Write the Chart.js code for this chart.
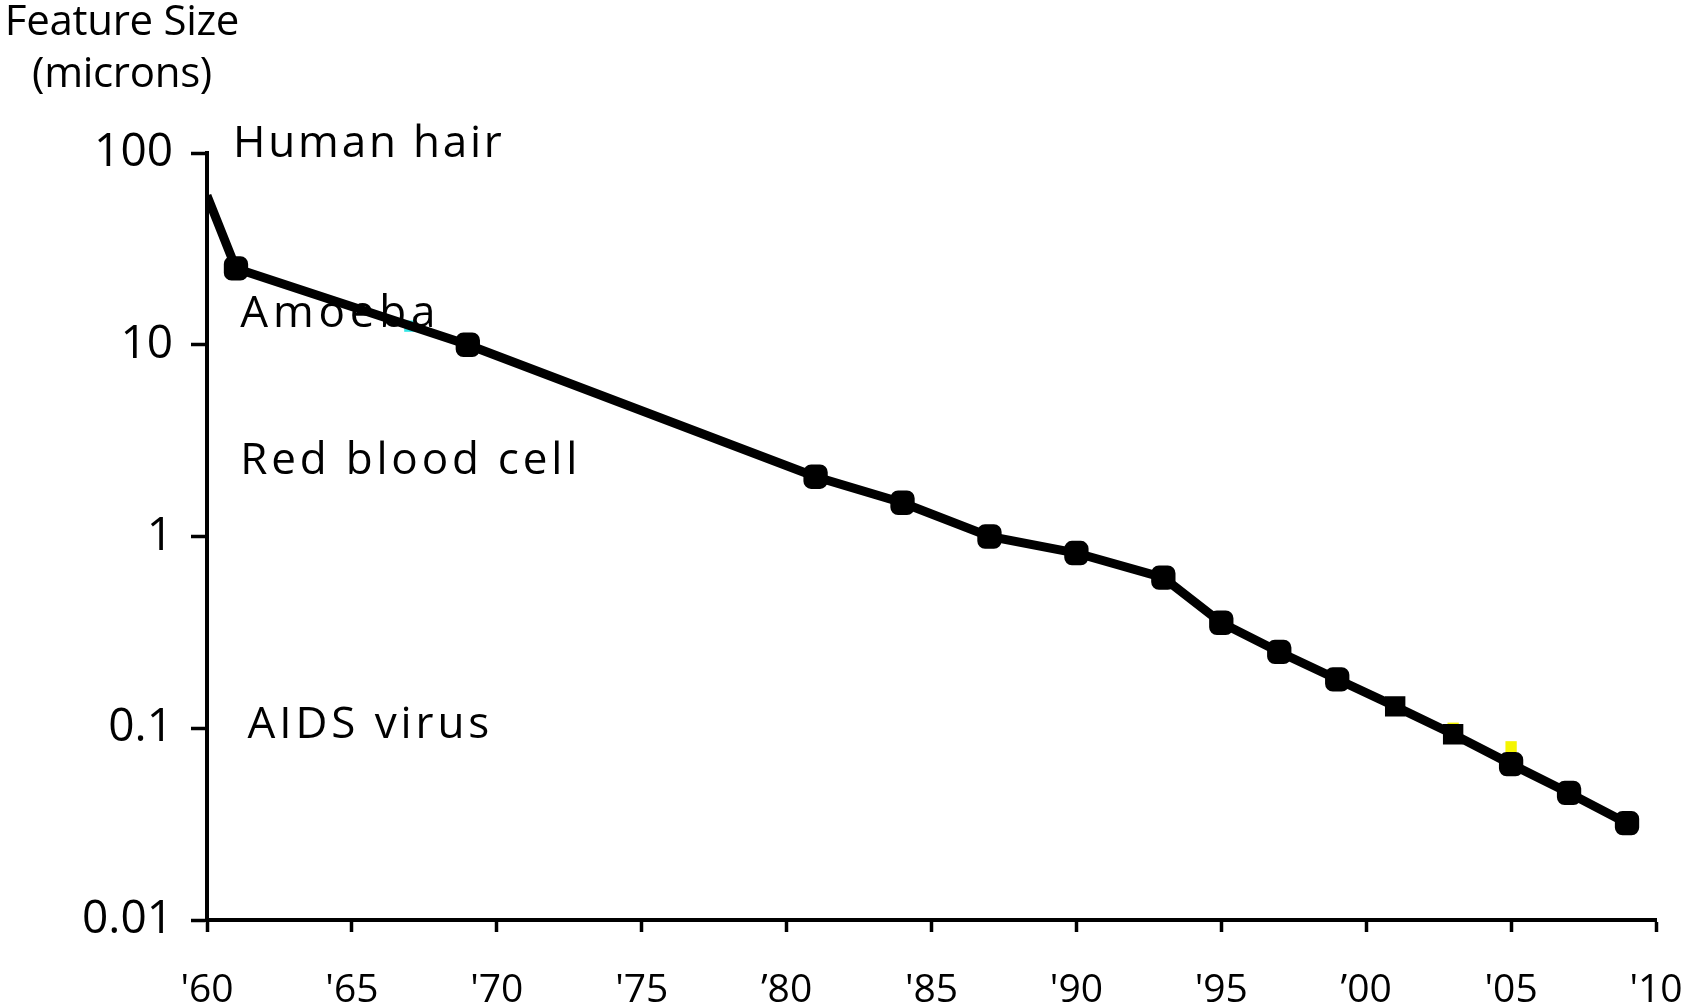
<!DOCTYPE html>
<html>
<head>
<meta charset="utf-8">
<script src="https://cdn.jsdelivr.net/npm/chart.js@4.4.1/dist/chart.umd.min.js"></script>
<style>
  html, body { margin: 0; padding: 0; background: #fff; }
  #chart { display: block; }
</style>
</head>
<body>
<canvas id="chart" width="1699" height="1007"></canvas>
<script>
// Feature size of chips over time (log scale)
const years = [1960, 1961, 1969, 1981, 1984, 1987, 1990, 1993, 1995, 1997, 1999, 2001, 2003, 2005, 2007, 2009];
const featureSize = [60, 25, 10, 2.05, 1.5, 1.0, 0.82, 0.61, 0.355, 0.25, 0.18, 0.13, 0.093, 0.065, 0.046, 0.032];
const markerStyles = ['rectRounded', 'rectRounded', 'rectRounded', 'rectRounded', 'rectRounded', 'rectRounded',
    'rectRounded', 'rectRounded', 'rectRounded', 'rectRounded', 'rectRounded', 'rect', 'rect', 'rectRounded',
    'rectRounded', 'rectRounded'];

// partly hidden markers behind the black line
const hiddenYears = [1967, 2003, 2005];
const hiddenSize = [12.5, 0.1, 0.08];
const hiddenColors = ['#33e6e6', '#f5f500', '#f5f500'];

const xTicks = [1960, 1965, 1970, 1975, 1980, 1985, 1990, 1995, 2000, 2005, 2010];
const xTickLabels = ["'60", "'65", "'70", "'75", "\u201980", "'85", "'90", "'95", "\u201900", "'05", "'10"];
const yTicks = [0.01, 0.1, 1, 10, 100];
const yTickLabels = ['0.01', '0.1', '1', '10', '100'];

const notes = ['Human hair', 'Amoeba', 'Red blood cell', 'AIDS virus'];
const noteYears = [1960.9, 1961.15, 1961.15, 1961.4];
const noteSize = [111, 14.4, 2.47, 0.104];
const noteSpacing = [2.8, 4.8, 3.8, 3.9];

const FONT = '"Open Sans", "Liberation Sans", sans-serif';

const textPlugin = {
    id: 'textPlugin',
    afterDraw(chart) {
        const ctx = chart.ctx;
        const xs = chart.scales.x;
        const ys = chart.scales.y;
        ctx.save();
        ctx.fillStyle = '#000';
        ctx.textBaseline = 'middle';

        // axis title, top left
        ctx.font = '42px ' + FONT;
        ctx.textAlign = 'center';
        ctx.letterSpacing = '-0.3px';
        ctx.fillText('Feature Size', 122, 23);
        ctx.fillText('(microns)', 122, 75);

        // reference sizes
        ctx.font = '44px ' + FONT;
        ctx.textAlign = 'left';
        notes.forEach((t, i) => {
            ctx.letterSpacing = noteSpacing[i] + 'px';
            ctx.fillText(t, xs.getPixelForValue(noteYears[i]), ys.getPixelForValue(noteSize[i]));
        });
        ctx.restore();
    }
};

new Chart(document.getElementById('chart'), {
    type: 'line',
    data: {
        datasets: [{
            data: years.map((y, i) => ({ x: y, y: featureSize[i] })),
            borderColor: '#000',
            borderWidth: 9,
            tension: 0,
            pointStyle: markerStyles,
            pointRadius: years.map((y, i) => i === 0 ? 0 : 13),
            pointBackgroundColor: '#000',
            pointBorderColor: '#000',
            pointBorderWidth: 2,
            order: 1
        }, {
            data: hiddenYears.map((y, i) => ({ x: y, y: hiddenSize[i] })),
            showLine: false,
            pointStyle: 'rect',
            pointRadius: 8,
            pointBackgroundColor: hiddenColors,
            pointBorderWidth: 0,
            order: 2
        }]
    },
    options: {
        responsive: false,
        animation: false,
        events: [],
        layout: { padding: { left: 0, right: 43, top: 153, bottom: 0 } },
        plugins: { legend: { display: false }, tooltip: { enabled: false }, title: { display: false } },
        scales: {
            x: {
                type: 'linear',
                min: 1960,
                max: 2010,
                afterFit: (s) => { s.height = 87; s.paddingLeft = 0; s.paddingRight = 0; },
                afterBuildTicks: (s) => { s.ticks = xTicks.map(v => ({ value: v })); },
                border: { display: true, color: '#000', width: 4 },
                grid: { drawOnChartArea: false, drawTicks: true, tickLength: 12, tickWidth: 3.5, tickColor: '#000' },
                ticks: {
                    color: '#000',
                    font: { family: FONT, size: 39 },
                    padding: 35,
                    maxRotation: 0,
                    autoSkip: false,
                    callback: (v) => xTickLabels[xTicks.indexOf(v)]
                }
            },
            y: {
                type: 'logarithmic',
                min: 0.01,
                max: 100,
                afterFit: (s) => { s.width = 207; s.paddingTop = 0; s.paddingBottom = 0; },
                afterBuildTicks: (s) => { s.ticks = yTicks.map(v => ({ value: v })); },
                border: { display: true, color: '#000', width: 4 },
                grid: { drawOnChartArea: false, drawTicks: true, tickLength: 16, tickWidth: 3.5, tickColor: '#000' },
                ticks: {
                    color: '#000',
                    font: { family: FONT, size: 46 },
                    padding: 18,
                    autoSkip: false,
                    callback: (v) => yTickLabels[yTicks.indexOf(v)]
                }
            }
        }
    },
    plugins: [textPlugin]
});
</script>
</body>
</html>
